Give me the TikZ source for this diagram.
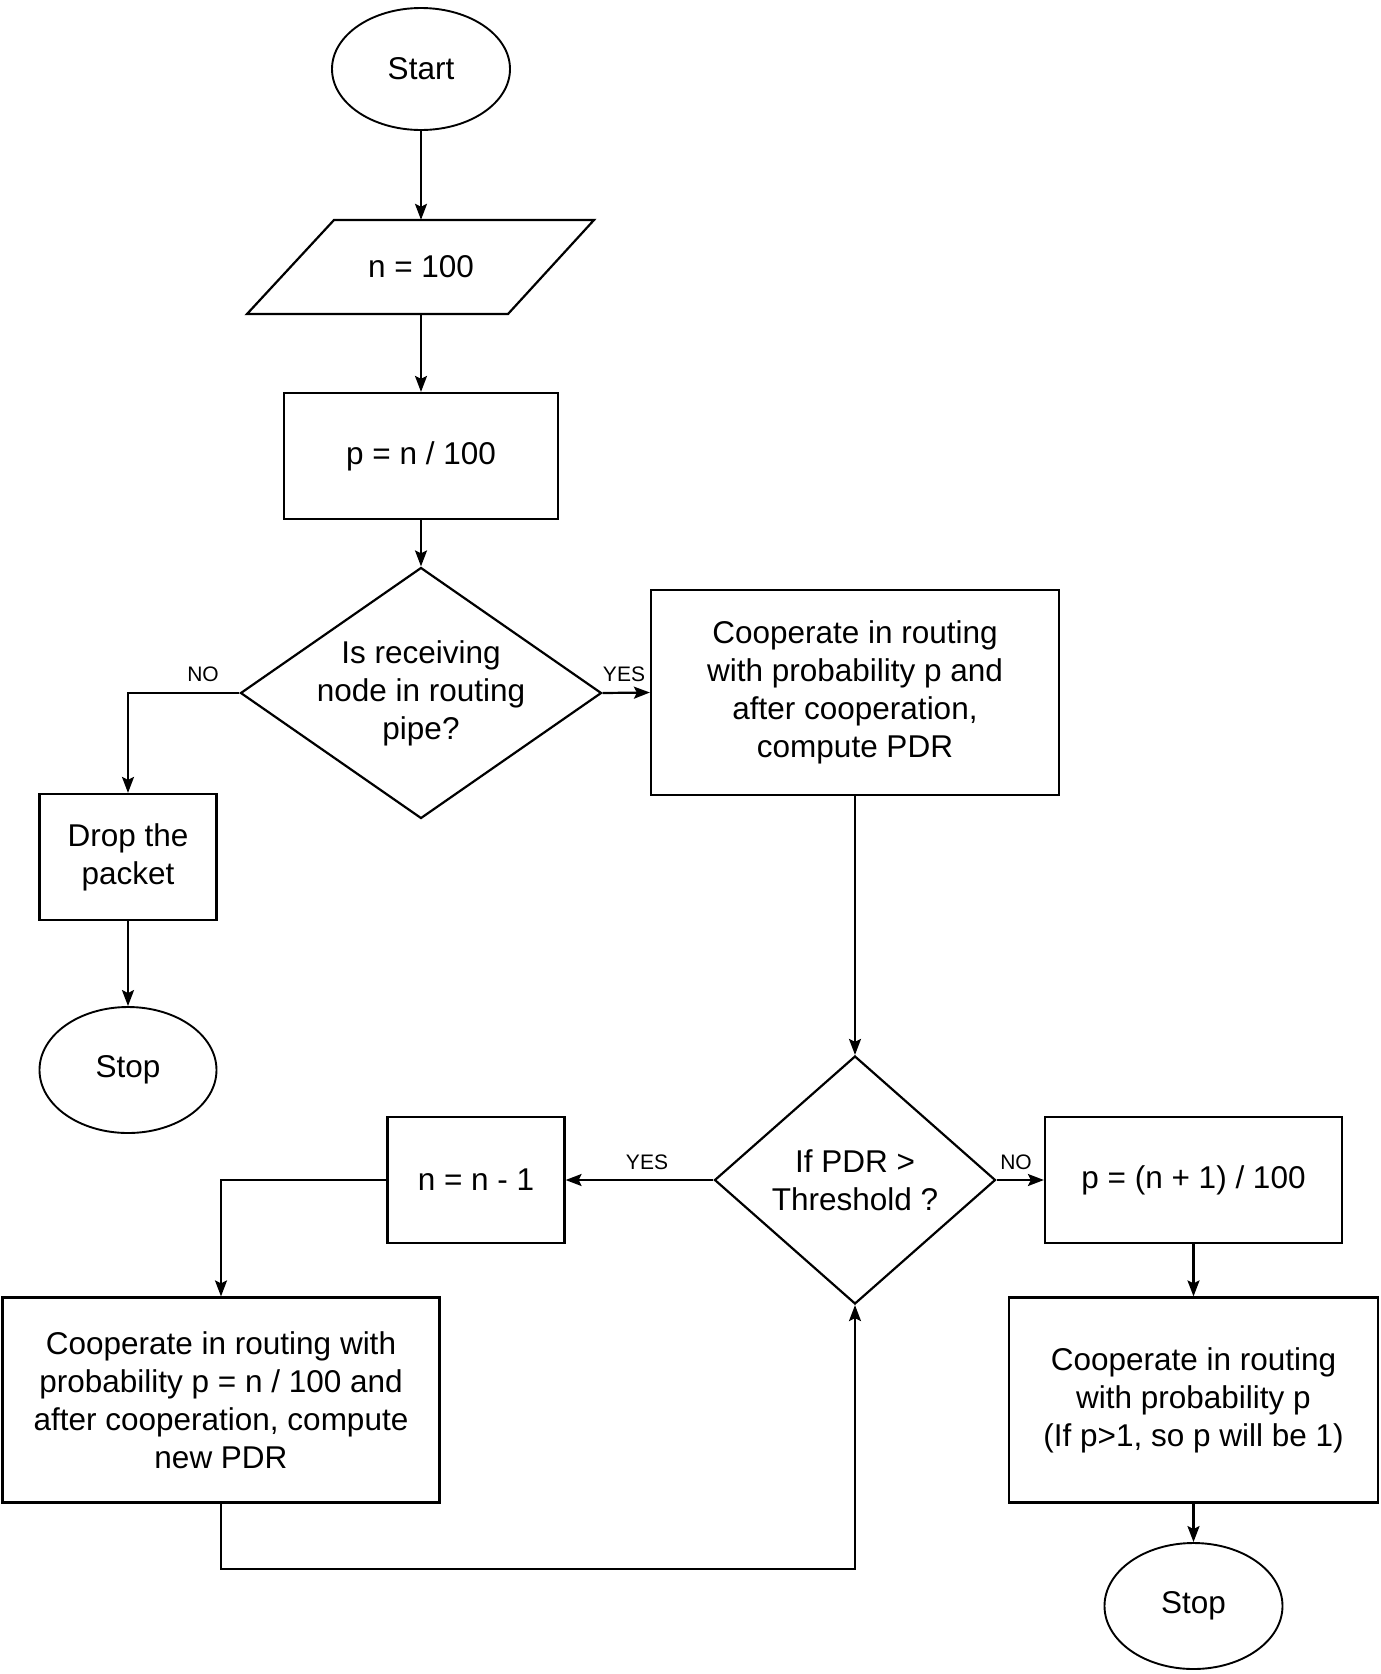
\documentclass[tikz,border=0pt]{standalone}
\usepackage{fontspec}
\setmainfont{Liberation Sans}
\usetikzlibrary{shapes.geometric,arrows.meta}
\begin{document}
\begin{tikzpicture}[x=1pt,y=-1pt,
  every node/.style={font=\fontsize{31.5}{38}\selectfont, align=center, inner sep=0pt},
  line/.style={line width=2.2pt, line join=miter},
  arr/.style={line, -{Stealth[length=16pt,width=12pt,inset=3pt]}},
  proc/.style={draw, line width=2.2pt, rectangle},
  term/.style={draw, line width=1.9pt, ellipse},
  decis/.style={draw, line width=2.2pt, diamond},
  lbl/.style={font=\fontsize{21}{25}\selectfont}]
\useasboundingbox (0,0) rectangle (1381,1674);

\node[term, minimum width=178pt, minimum height=122pt] (start) at (421,69) {Start};
\node[minimum width=261pt, minimum height=94pt] (para) at (421,267) {n = 100};
\draw[line] (334,220) -- (594,220) -- (508,314) -- (247,314) -- cycle;
\node[proc, minimum width=274pt, minimum height=126pt] (pbox) at (421,456) {p = n / 100};
\node[decis, minimum width=361pt, minimum height=251pt] (d1) at (421,693) {};
\node (d1t) at (d1) {Is receiving\\node in routing\\pipe?};
\node[proc, minimum width=408pt, minimum height=205pt] (coop1) at (855,692.5) {Cooperate in routing\\with probability p and\\after cooperation,\\compute PDR};
\node[proc, minimum width=177pt, minimum height=126pt] (drop) at (128,857) {Drop the\\packet};
\node[term, minimum width=177pt, minimum height=126pt] (stop1) at (128,1070) {Stop};
\node[decis, minimum width=281pt, minimum height=248pt] (d2) at (855,1180) {};
\node (d2t) at (d2) {If PDR >\\Threshold ?};
\node[proc, minimum width=177pt, minimum height=126pt] (nbox) at (476,1180) {n = n - 1};
\node[proc, minimum width=297pt, minimum height=126pt] (pn1) at (1193.5,1180) {p = (n + 1) / 100};
\node[proc, minimum width=369pt, minimum height=205pt] (coop3) at (1193.5,1400) {Cooperate in routing\\with probability p\\(If p>1, so p will be 1)};
\node[term, minimum width=178pt, minimum height=126pt] (stop2) at (1193.5,1606) {Stop};
\node[proc, minimum width=437pt, minimum height=205pt] (coop2) at (221,1400) {Cooperate in routing with\\probability p = n / 100 and\\after cooperation, compute\\new PDR};

\draw[arr] (start) -- (para);
\draw[arr] (para) -- (pbox);
\draw[arr] (pbox) -- (d1);
\draw[arr] (d1.east) -- (coop1.west);
\draw[arr] (d1.west) -| (drop.north);
\draw[arr] (drop) -- (stop1);
\draw[arr] (coop1) -- (d2);
\draw[arr] (d2.west) -- (nbox.east);
\draw[arr] (d2.east) -- (pn1.west);
\draw[arr] (pn1) -- (coop3);
\draw[arr] (coop3) -- (stop2);
\draw[arr] (nbox.west) -| (coop2.north);
\coordinate (loop) at (0,1569);
\draw[arr] (coop2.south) -- (coop2.south |- loop) -| (d2.south);

\node[lbl] (no1) at (203,674) {NO};
\node[lbl] (yes1) at (624,674) {YES};
\node[lbl] (yes2) at (647,1162) {YES};
\node[lbl] (no2) at (1016,1162) {NO};
\end{tikzpicture}
\end{document}
